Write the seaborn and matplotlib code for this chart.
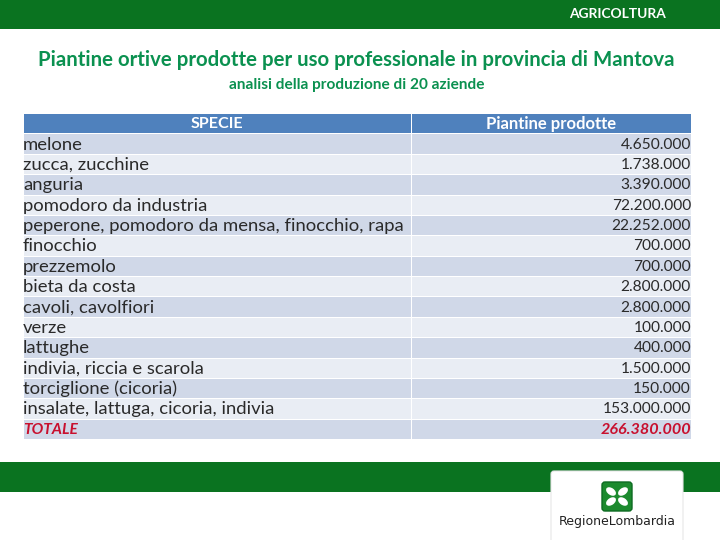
import numpy as np
import seaborn as sns
from matplotlib import pyplot as plt
from matplotlib.colors import ListedColormap
from matplotlib.patches import Ellipse, FancyBboxPatch, Rectangle

specie = [
    "melone",
    "zucca, zucchine",
    "anguria",
    "pomodoro da industria",
    "peperone, pomodoro da mensa, finocchio, rapa",
    "finocchio",
    "prezzemolo",
    "bieta da costa",
    "cavoli, cavolfiori",
    "verze",
    "lattughe",
    "indivia, riccia e scarola",
    "torciglione (cicoria)",
    "insalate, lattuga, cicoria, indivia",
]
piantine = [
    4650000, 1738000, 3390000, 72200000, 22252000, 700000, 700000,
    2800000, 2800000, 100000, 400000, 1500000, 150000, 153000000,
]
totale = 266380000
headers = ["SPECIE", "Piantine prodotte"]

TITLE = "Piantine ortive prodotte per uso professionale in provincia di Mantova"
SUBTITLE = "analisi della produzione di 20 aziende"
GREEN = "#0a7320"
TITLE_GREEN = "#0b9150"
RED = "#c8102e"
W, H = 720, 540
FONT = "Lato"


def fmt(value):
    return f"{value:,}".replace(",", ".")


def px_axes(fig, left, top, right, bottom):
    return fig.add_axes([left / W, 1 - bottom / H, (right - left) / W, (bottom - top) / H])


def draw_column(fig, left, right, labels, header, ha, size, size_last, size_head):
    # 0 = testata, poi righe alternate come nella tabella
    bands = np.array([[0]] + [[1 if i % 2 == 0 else 2] for i in range(len(labels))])
    ax = px_axes(fig, left, 113, right, 439)
    cmap = ListedColormap(["#4f81bd", "#d0d8e8", "#e9edf4"])
    sns.heatmap(bands, ax=ax, cmap=cmap, vmin=0, vmax=2, cbar=False, linewidths=0.5,
                linecolor="white", xticklabels=False, yticklabels=False)
    ax.text(0.5, 0.55, header, ha="center", va="center", color="white",
            fontsize=size_head, family=FONT, fontweight="bold")
    x = 0.0 if ha == "left" else 1.0
    for row, label in enumerate(labels, start=1):
        last = row == len(labels)
        ax.text(x, row + 0.55, label, ha=ha, va="center", family=FONT,
                fontsize=size_last if last else size,
                color=RED if last else "#2a2a2a",
                fontweight="bold" if last else "normal",
                fontstyle="italic" if last else "normal")
    return ax


def main():
    sns.set_theme(style="white")
    plt.rcParams["font.family"] = [FONT, "DejaVu Sans"]
    fig = plt.figure(figsize=(7.2, 5.4), dpi=100, facecolor="white")

    draw_column(fig, 23, 411, specie + ["TOTALE"], headers[0], "left", 13.3, 11.2, 11.6)
    draw_column(fig, 411, 691, [fmt(v) for v in piantine] + [fmt(totale)], headers[1], "right",
                11.2, 11.6, 12)

    # fondo slide: bande verdi, titoli, logo
    page = fig.add_axes([0, 0, 1, 1], zorder=5)
    page.set_xlim(0, W)
    page.set_ylim(H, 0)
    page.axis("off")
    page.patch.set_alpha(0)
    page.add_patch(Rectangle((0, 0), W, 29, color=GREEN, lw=0))
    page.add_patch(Rectangle((0, 462), W, 30, color=GREEN, lw=0))
    page.text(617.5, 14.5, "AGRICOLTURA", color="white", fontsize=9.9, ha="center",
              va="center", fontweight="bold")
    page.text(356.5, 59.5, TITLE, color=TITLE_GREEN, fontsize=14.65, ha="center", va="center",
              fontweight="bold")
    page.text(357, 85.5, SUBTITLE, color=TITLE_GREEN, fontsize=11.1, ha="center", va="center",
              fontweight="bold")

    page.add_patch(FancyBboxPatch((551, 471), 132, 80, boxstyle="round,pad=0,rounding_size=3",
                                  fc="white", ec="#e6e6e6", lw=0.8))
    page.add_patch(FancyBboxPatch((602, 482), 30, 29, boxstyle="round,pad=0,rounding_size=3",
                                  fc="#1c8a2e", ec="#0d6b22", lw=1))
    for angle, dx, dy in [(35, -6, -5), (-35, 6, -5), (-35, -6, 5), (35, 6, 5)]:
        page.add_patch(Ellipse((617 + dx, 496.5 + dy), 11, 7, angle=angle, fc="white", lw=0))
    page.text(617.5, 521, "RegioneLombardia", color="#222222", fontsize=9, ha="center",
              va="center", family="DejaVu Sans")

    fig.savefig("out.png", dpi=100)


if __name__ == "__main__":
    main()
